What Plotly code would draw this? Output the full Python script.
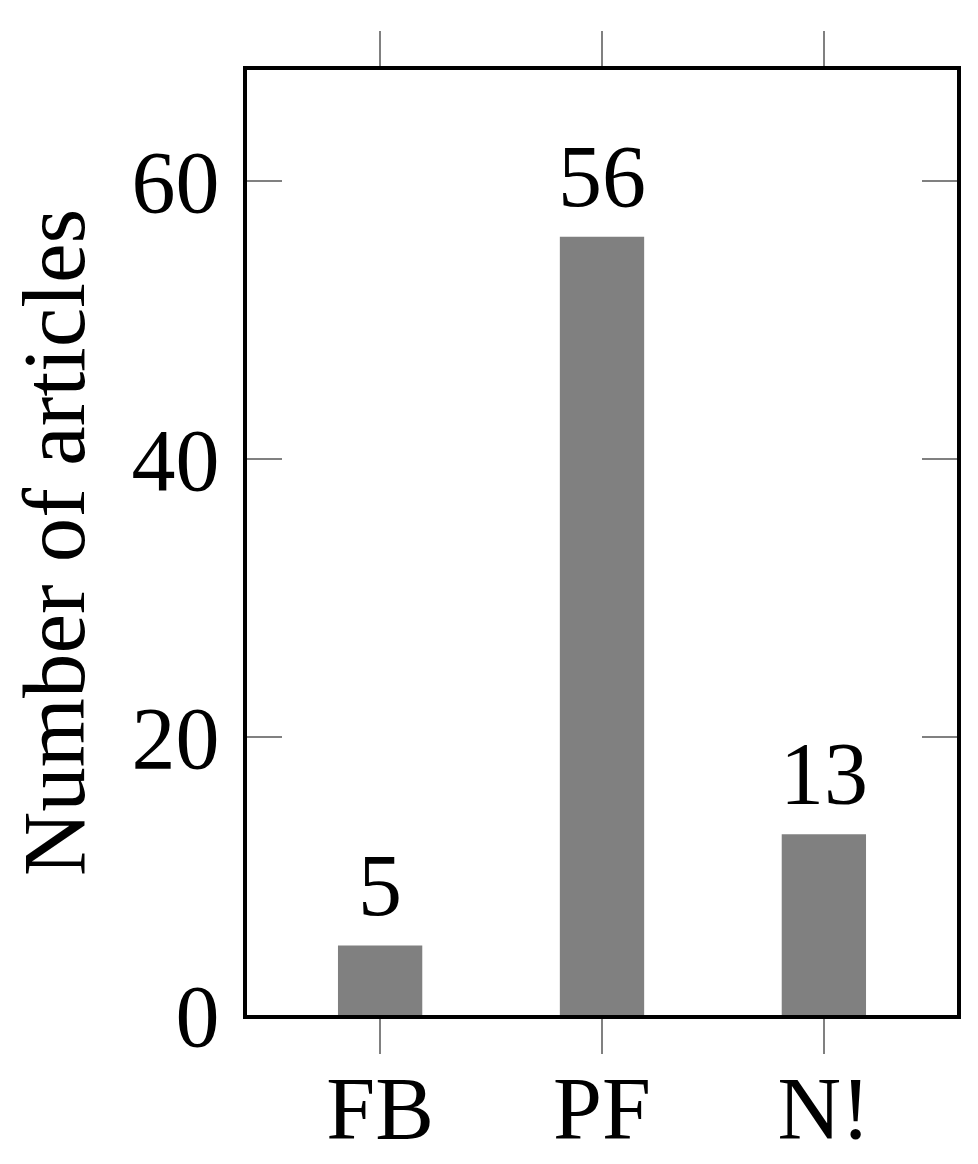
import plotly.graph_objects as go

categories = ["FB", "PF", "N!"]
counts = [5, 56, 13]
y_ticks = [0, 20, 40, 60]
y_title = "Number of articles"

FONT = "Liberation Serif"
FS = 88

fig = go.Figure()
fig.add_trace(go.Bar(
    x=categories, y=counts, width=0.38,
    marker=dict(color="#808080", line=dict(width=0)),
    showlegend=False,
))

for c, v in zip(categories, counts):
    fig.add_annotation(x=c, y=v, text=str(v), showarrow=False,
                       yanchor="bottom", yshift=10,
                       font=dict(family=FONT, size=FS, color="black"))

fig.add_annotation(x=-0.2725, y=0.5, xref="paper", yref="paper",
                   text=y_title, textangle=-90, showarrow=False,
                   xanchor="center", yanchor="middle", borderpad=0,
                   font=dict(family=FONT, size=89, color="black"))

fig.update_layout(
    width=970, height=1156,
    margin=dict(l=239, r=21, t=62, b=149),
    plot_bgcolor="white", paper_bgcolor="white",
    font=dict(family=FONT, size=FS, color="black"),
)
fig.update_xaxes(
    range=[-0.6, 2.6], automargin=False,
    showline=True, linewidth=4, linecolor="black", mirror="ticks",
    ticks="outside", ticklen=35, tickwidth=2, tickcolor="#808080",
    showgrid=False, zeroline=False,
    ticklabelstandoff=-22,
    tickfont=dict(family=FONT, size=FS, color="black"),
)
fig.update_yaxes(
    range=[0, 68], tickvals=y_ticks, automargin=False,
    showline=True, linewidth=4, linecolor="black", mirror="ticks",
    ticks="inside", ticklen=35, tickwidth=2, tickcolor="#808080",
    showgrid=False, zeroline=False,
    ticklabelstandoff=6,
    tickfont=dict(family=FONT, size=FS, color="black"),
)

fig.write_html("out.html")
